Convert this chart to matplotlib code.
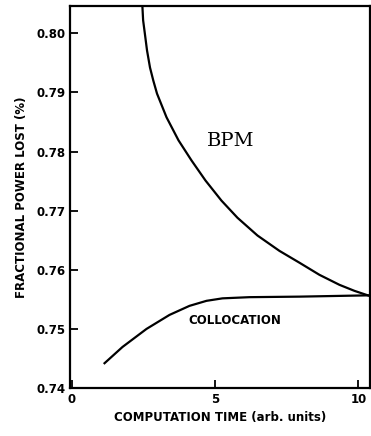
import matplotlib
matplotlib.use("Agg")
import matplotlib.pyplot as plt

# BPM curve
bpm_time = [2.467, 2.495, 2.554, 2.631, 2.735, 2.850, 2.979, 3.310, 3.728, 4.181,
            4.669, 5.226, 5.784, 6.481, 7.247, 7.944, 8.641, 9.338, 9.861, 10.383]
bpm_loss = [0.8048, 0.8022, 0.8000, 0.7971, 0.7942, 0.7920, 0.7898, 0.7858, 0.7819,
            0.7785, 0.7751, 0.7717, 0.7688, 0.7658, 0.7632, 0.7612, 0.75915,
            0.75746, 0.75644, 0.75559]

# collocation curve
col_time = [1.150, 1.777, 2.613, 3.415, 4.111, 4.704, 5.261, 6.202, 7.944, 10.383]
col_loss = [0.7442, 0.74695, 0.7500, 0.75237, 0.7539, 0.75475, 0.75517, 0.75537,
            0.75546, 0.75568]

x_ticks = [0, 5, 10]
y_ticks = [0.74, 0.75, 0.76, 0.77, 0.78, 0.79, 0.80]
y_tick_labels = ["0.74", "0.75", "0.76", "0.77", "0.78", "0.79", "0.80"]

fig = plt.figure(figsize=(3.71, 4.36), dpi=100)
ax = fig.add_axes([0.189, 0.110, 0.808, 0.876])

ax.plot(bpm_time, bpm_loss, color="black", linewidth=1.6, solid_joinstyle="round")
ax.plot(col_time, col_loss, color="black", linewidth=1.6, solid_joinstyle="round")

ax.text(5.55, 0.7817, "BPM", family="DejaVu Serif", fontsize=14, ha="center", va="center")
ax.text(5.68, 0.7514, "COLLOCATION", fontsize=8.5, fontweight="bold", ha="center", va="center")

ax.set_xlim(-0.05, 10.4)
ax.set_ylim(0.74, 0.8046)
ax.set_xticks(x_ticks)
ax.set_yticks(y_ticks)
ax.set_yticklabels(y_tick_labels)
ax.tick_params(direction="in", length=6, width=1.3, labelsize=8.5)
for lab in ax.get_xticklabels() + ax.get_yticklabels():
    lab.set_fontweight("bold")
for sp in ax.spines.values():
    sp.set_linewidth(1.6)

ax.set_xlabel("COMPUTATION TIME (arb. units)", fontsize=8.5, fontweight="bold", labelpad=4)
ax.set_ylabel("FRACTIONAL POWER LOST (%)", fontsize=8.5, fontweight="bold", labelpad=6)

fig.savefig("out.png", dpi=100)
